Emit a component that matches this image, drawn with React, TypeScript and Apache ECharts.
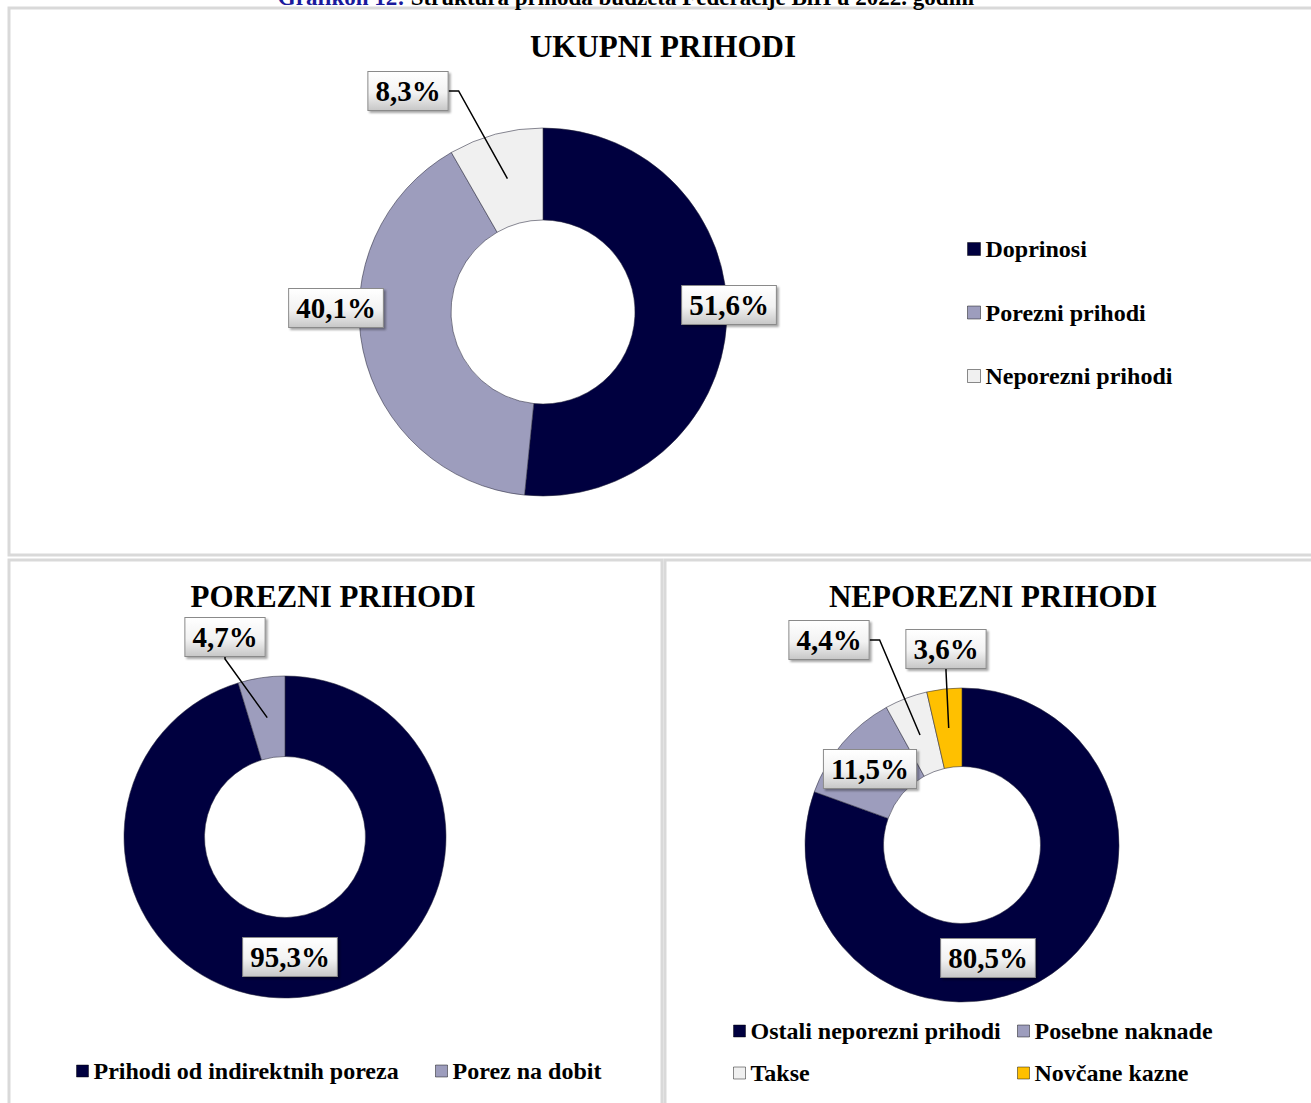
import React, { useEffect, useRef } from 'react';
import * as echarts from 'echarts';

// ---------- data ----------
const captionLead = 'Grafikon 12:';
const captionText = 'Struktura prihoda budžeta Federacije BiH u 2022. godini';
const chartTitles = ['UKUPNI PRIHODI', 'POREZNI PRIHODI', 'NEPOREZNI PRIHODI'];

const totalNames = ['Doprinosi', 'Porezni prihodi', 'Neporezni prihodi'];
const totalValues = [51.6, 40.1, 8.3];

const taxNames = ['Prihodi od indirektnih poreza', 'Porez na dobit'];
const taxValues = [95.3, 4.7];

const nonTaxNames = ['Ostali neporezni prihodi', 'Posebne naknade', 'Takse', 'Novčane kazne'];
const nonTaxValues = [80.5, 11.5, 4.4, 3.6];

// ---------- styling / layout ----------
const NAVY = '#00003f';
const LAVENDER = '#9d9dbd';
const LIGHT = '#f0f0f0';
const GOLD = '#ffc000';
const totalColors = [NAVY, LAVENDER, LIGHT];
const taxColors = [NAVY, LAVENDER];
const nonTaxColors = [NAVY, LAVENDER, LIGHT, GOLD];

const FONT = "'Liberation Serif', 'Times New Roman', serif";

type Place = { dx: number; dy: number; leader?: 'right' | 'bottom' };

const pieGeom = [
  { cx: 543, cy: 312, r: 184 },
  { cx: 285, cy: 837, r: 161 },
  { cx: 962, cy: 845, r: 157 },
];

const totalPlaces: Place[] = [
  { dx: 186, dy: -7 },
  { dx: -207, dy: -4 },
  { dx: -135, dy: -221, leader: 'right' },
];
const taxPlaces: Place[] = [
  { dx: 5, dy: 120 },
  { dx: -60, dy: -200, leader: 'bottom' },
];
const nonTaxPlaces: Place[] = [
  { dx: 26, dy: 113 },
  { dx: -92, dy: -76 },
  { dx: -133, dy: -205, leader: 'right' },
  { dx: -16, dy: -196, leader: 'bottom' },
];

const fmt = (v: number) => v.toFixed(1).replace('.', ',') + '%';

function midAngle(values: number[], idx: number): number {
  const sum = values.reduce((a, b) => a + b, 0);
  let before = 0;
  for (let i = 0; i < idx; i++) before += values[i];
  return ((before + values[idx] / 2) / sum) * Math.PI * 2; // clockwise from 12 o'clock
}

const labelBox = {
  fontFamily: FONT,
  fontWeight: 'bold',
  fontSize: 29,
  color: '#000',
  backgroundColor: {
    type: 'linear',
    x: 0,
    y: 0,
    x2: 0,
    y2: 1,
    colorStops: [
      { offset: 0, color: '#ffffff' },
      { offset: 0.55, color: '#f2f2f2' },
      { offset: 1, color: '#c8c8c8' },
    ],
  },
  borderColor: '#8a8a8a',
  borderWidth: 1,
  padding: [5, 7, 4, 7],
  shadowColor: 'rgba(0,0,0,0.35)',
  shadowBlur: 2,
  shadowOffsetX: 2,
  shadowOffsetY: 2,
};

// overlay = false: the coloured ring with its in-ring labels
// overlay = true : a transparent copy on top that carries the labels with leader lines
function makeSeries(
  names: string[],
  values: number[],
  colors: string[],
  geom: { cx: number; cy: number; r: number },
  places: Place[],
  overlay: boolean
) {
  const r0 = geom.r / 2;
  const rm = (geom.r + r0) / 2;
  return {
    type: 'pie',
    z: overlay ? 5 : 2,
    silent: overlay,
    center: [geom.cx, geom.cy],
    radius: [r0, geom.r],
    startAngle: 90,
    clockwise: true,
    avoidLabelOverlap: false,
    emphasis: { disabled: true },
    itemStyle: overlay
      ? { color: 'rgba(0,0,0,0)', borderWidth: 0 }
      : { borderColor: 'rgba(40,40,60,0.55)', borderWidth: 1 },
    label: {
      show: true,
      formatter: (p: any) => fmt(p.value),
      ...labelBox,
    },
    labelLine: { show: overlay, lineStyle: { color: '#000', width: 1.5 } },
    labelLayout: (params: any) => {
      const spec = places[params.dataIndex];
      if (!spec) return {};
      const x = geom.cx + spec.dx;
      const y = geom.cy + spec.dy;
      const w = params.labelRect.width;
      const h = params.labelRect.height;
      const res: any = { x, y, align: 'center', verticalAlign: 'middle' };
      if (spec.leader) {
        const a = midAngle(values, params.dataIndex);
        const ax = geom.cx + rm * Math.sin(a);
        const ay = geom.cy - rm * Math.cos(a);
        if (spec.leader === 'right') {
          res.labelLinePoints = [
            [ax, ay],
            [x + w / 2 + 10, y],
            [x + w / 2, y],
          ];
        } else {
          res.labelLinePoints = [
            [ax, ay],
            [x, y + h / 2 + 2],
            [x, y + h / 2],
          ];
        }
      }
      return res;
    },
    data: names.map((n, i) => {
      const leader = !!places[i].leader;
      const showHere = overlay ? leader : !leader;
      return {
        name: n,
        value: values[i],
        itemStyle: overlay ? { color: 'rgba(0,0,0,0)' } : { color: colors[i] },
        label: { show: showHere, position: leader ? 'outside' : 'inside' },
        labelLine: { show: overlay && leader },
      };
    }),
  };
}

const legendBase = {
  icon: 'rect',
  itemWidth: 12,
  itemHeight: 12,
  itemGap: 18,
  selectedMode: false,
  textStyle: {
    fontFamily: FONT,
    fontWeight: 'bold',
    fontSize: 24,
    lineHeight: 24,
    color: '#000',
  },
  itemStyle: { borderColor: 'rgba(0,0,0,0.45)', borderWidth: 1 },
};

export default function App() {
  const ref = useRef<HTMLDivElement>(null);

  useEffect(() => {
    if (!ref.current) return;
    const chart = echarts.init(ref.current, undefined, { renderer: 'svg' });

    const titleStyle = (text: string) => ({
      text,
      textAlign: 'center',
      textVerticalAlign: 'middle',
      font: 'bold 31px ' + FONT,
      fill: '#000',
    });

    const option: any = {
      animation: false,
      backgroundColor: '#ffffff',
      graphic: [
        {
          type: 'rect',
          z: -10,
          shape: { x: 9, y: 8, width: 1400, height: 547 },
          style: { fill: 'none', stroke: '#d9d9d9', lineWidth: 3 },
        },
        {
          type: 'rect',
          z: -10,
          shape: { x: 9, y: 560, width: 653, height: 600 },
          style: { fill: 'none', stroke: '#d9d9d9', lineWidth: 3 },
        },
        {
          type: 'rect',
          z: -10,
          shape: { x: 665, y: 560, width: 700, height: 600 },
          style: { fill: 'none', stroke: '#d9d9d9', lineWidth: 3 },
        },
        {
          type: 'text',
          x: 626,
          y: -3,
          style: {
            text: '{b|' + captionLead + '} ' + captionText,
            textAlign: 'center',
            textVerticalAlign: 'middle',
            font: 'bold 23px ' + FONT,
            fill: '#000',
            rich: { b: { fill: '#1a1a9c', font: 'bold 23px ' + FONT } },
          },
        },
        { type: 'text', x: 663, y: 46, style: titleStyle(chartTitles[0]) },
        { type: 'text', x: 333, y: 596, style: titleStyle(chartTitles[1]) },
        { type: 'text', x: 993, y: 596, style: titleStyle(chartTitles[2]) },
      ],
      legend: [
        { ...legendBase, orient: 'vertical', left: 962, top: 232, itemGap: 39.5, itemWidth: 13, itemHeight: 13, data: totalNames },
        { ...legendBase, orient: 'horizontal', left: 71, top: 1054, data: [taxNames[0]] },
        { ...legendBase, orient: 'horizontal', left: 430, top: 1054, data: [taxNames[1]] },
        { ...legendBase, orient: 'vertical', left: 728, top: 1014, data: [nonTaxNames[0], nonTaxNames[2]] },
        { ...legendBase, orient: 'vertical', left: 1012, top: 1014, data: [nonTaxNames[1], nonTaxNames[3]] },
      ],
      series: [
        makeSeries(totalNames, totalValues, totalColors, pieGeom[0], totalPlaces, false),
        makeSeries(taxNames, taxValues, taxColors, pieGeom[1], taxPlaces, false),
        makeSeries(nonTaxNames, nonTaxValues, nonTaxColors, pieGeom[2], nonTaxPlaces, false),
        makeSeries(totalNames, totalValues, totalColors, pieGeom[0], totalPlaces, true),
        makeSeries(taxNames, taxValues, taxColors, pieGeom[1], taxPlaces, true),
        makeSeries(nonTaxNames, nonTaxValues, nonTaxColors, pieGeom[2], nonTaxPlaces, true),
      ],
    };

    chart.setOption(option);
    return () => chart.dispose();
  }, []);

  return (
    <div
      ref={ref}
      style={{ position: 'absolute', left: 0, top: 0, width: 1311, height: 1103 }}
    />
  );
}
